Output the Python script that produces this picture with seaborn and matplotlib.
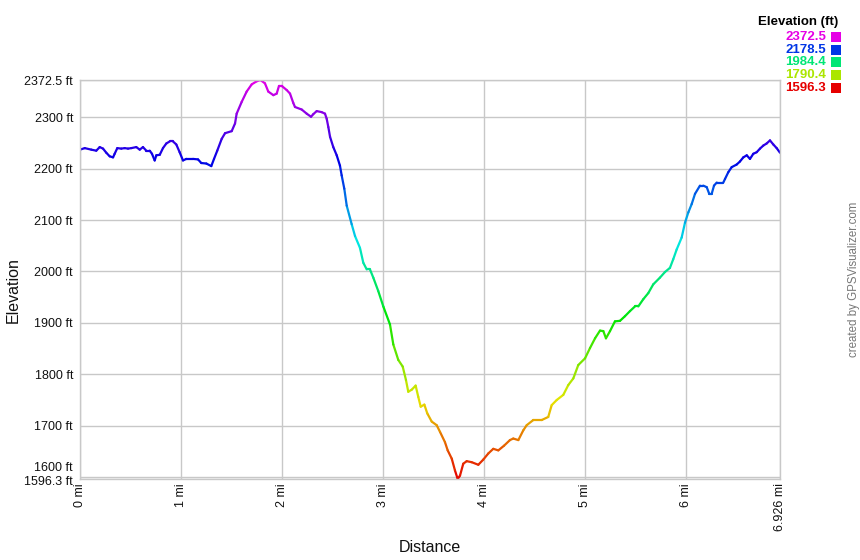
import numpy as np
import pandas as pd
import matplotlib
matplotlib.use("Agg")
import matplotlib.pyplot as plt
import seaborn as sns
from matplotlib.colors import ListedColormap, hsv_to_rgb
from matplotlib.patches import Rectangle
from matplotlib import transforms

# ---------------- data ----------------
distance_mi = [
    0.000, 0.047, 0.112, 0.161, 0.195, 0.228, 0.260, 0.294, 0.327, 0.343,
    0.369, 0.409, 0.442, 0.475, 0.508, 0.557, 0.591, 0.623, 0.656, 0.690,
    0.712, 0.739, 0.755, 0.789, 0.821, 0.854, 0.888, 0.920, 0.953, 0.986,
    1.019, 1.052, 1.118, 1.168, 1.200, 1.250, 1.299, 1.326, 1.358, 1.402,
    1.435, 1.501, 1.534, 1.550, 1.600, 1.649, 1.699, 1.748, 1.785, 1.830,
    1.863, 1.913, 1.946, 1.969, 1.996, 2.045, 2.078, 2.110, 2.127, 2.194,
    2.243, 2.286, 2.308, 2.342, 2.391, 2.424, 2.441, 2.457, 2.474, 2.506,
    2.540, 2.572, 2.589, 2.615, 2.639, 2.688, 2.721, 2.770, 2.803, 2.837,
    2.869, 2.902, 2.951, 3.001, 3.067, 3.100, 3.149, 3.193, 3.225, 3.248,
    3.282, 3.321, 3.347, 3.371, 3.407, 3.436, 3.480, 3.529, 3.562, 3.611,
    3.638, 3.678, 3.710, 3.737, 3.760, 3.792, 3.826, 3.875, 3.941, 3.990,
    4.040, 4.089, 4.139, 4.195, 4.254, 4.287, 4.337, 4.386, 4.420, 4.485,
    4.568, 4.633, 4.667, 4.717, 4.782, 4.831, 4.881, 4.930, 4.997, 5.046,
    5.096, 5.145, 5.178, 5.204, 5.244, 5.293, 5.343, 5.392, 5.442, 5.491,
    5.524, 5.573, 5.623, 5.672, 5.738, 5.788, 5.837, 5.870, 5.904, 5.953,
    5.986, 6.019, 6.052, 6.085, 6.134, 6.167, 6.201, 6.226, 6.250, 6.273,
    6.300, 6.365, 6.382, 6.414, 6.448, 6.497, 6.530, 6.563, 6.597, 6.629,
    6.662, 6.695, 6.728, 6.761, 6.794, 6.827, 6.860, 6.893, 6.926,
]
elevation_ft = [
    2237, 2240, 2237, 2235, 2242, 2239, 2231, 2224, 2222, 2229,
    2240, 2239, 2240, 2239, 2240, 2242, 2237, 2242, 2235, 2235,
    2229, 2216, 2226, 2227, 2240, 2249, 2253, 2253, 2247, 2232,
    2216, 2219, 2219, 2218, 2211, 2210, 2205, 2219, 2235, 2258,
    2269, 2273, 2288, 2307, 2330, 2350, 2364, 2370, 2372.5, 2366,
    2350, 2343, 2346, 2361, 2361, 2353, 2346, 2328, 2320, 2315,
    2307, 2301, 2306, 2312, 2310, 2307, 2297, 2281, 2262, 2242,
    2226, 2206, 2187, 2161, 2128, 2092, 2069, 2046, 2017, 2004,
    2004, 1988, 1962, 1932, 1897, 1858, 1828, 1815, 1789, 1766,
    1770, 1778, 1756, 1737, 1741, 1724, 1708, 1701, 1688, 1668,
    1652, 1636, 1613, 1596.3, 1603, 1626, 1631, 1629, 1624, 1634,
    1646, 1655, 1652, 1661, 1672, 1675, 1672, 1691, 1701, 1711,
    1711, 1717, 1740, 1750, 1760, 1779, 1792, 1818, 1831, 1851,
    1870, 1885, 1884, 1870, 1884, 1903, 1904, 1913, 1923, 1932,
    1932, 1946, 1958, 1975, 1988, 1999, 2007, 2024, 2043, 2066,
    2095, 2115, 2131, 2151, 2167, 2167, 2164, 2151, 2151, 2167,
    2173, 2173, 2180, 2193, 2203, 2208, 2214, 2222, 2226, 2219,
    2229, 2232, 2239, 2245, 2249, 2255, 2247, 2240, 2231,
]
y_ticks = [1596.3, 1600, 1700, 1800, 1900, 2000, 2100, 2200, 2300, 2372.5]
y_tick_labels = ["1596.3 ft", "1600 ft", "1700 ft", "1800 ft", "1900 ft",
                 "2000 ft", "2100 ft", "2200 ft", "2300 ft", "2372.5 ft"]
x_ticks = [0, 1, 2, 3, 4, 5, 6, 6.926]
x_tick_labels = ["0 mi", "1 mi", "2 mi", "3 mi", "4 mi", "5 mi", "6 mi", "6.926 mi"]
legend_values = [2372.5, 2178.5, 1984.4, 1790.4, 1596.3]
legend_labels = ["2372.5", "2178.5", "1984.4", "1790.4", "1596.3"]

# ---------------- style ----------------
sns.set_style("white")
plt.rcParams["font.family"] = ["Liberation Sans", "DejaVu Sans"]

ymin, ymax = 1596.3, 2372.5
W, H = 860, 560

hues = np.linspace(0.0, 300.0 / 360.0, 256)
cmap = ListedColormap(hsv_to_rgb(np.column_stack([hues, np.ones(256), np.full(256, 0.9)])))
norm = plt.Normalize(ymin, ymax)

# segments, each coloured by its mean elevation
rows = []
for i in range(len(distance_mi) - 1):
    c = (elevation_ft[i] + elevation_ft[i + 1]) / 2.0
    rows.append({"seg": i, "x": distance_mi[i], "y": elevation_ft[i], "c": c})
    rows.append({"seg": i, "x": distance_mi[i + 1], "y": elevation_ft[i + 1], "c": c})
df = pd.DataFrame(rows)

fig = plt.figure(figsize=(W / 100, H / 100), dpi=100)
ax = fig.add_axes([80 / W, (H - 479) / H, 700 / W, 399 / H])

sns.lineplot(data=df, x="x", y="y", hue="c", units="seg", estimator=None,
             palette=cmap, hue_norm=(ymin, ymax), legend=False,
             linewidth=1.6, sort=False, ax=ax)

ax.set_xlim(0, 6.926)
ax.set_ylim(ymin, ymax)
ax.set_axisbelow(True)
ax.grid(True, color="#c8c8c8", linewidth=1)
for s in ax.spines.values():
    s.set_color("#c8c8c8")
    s.set_linewidth(1)

ax.set_yticks(y_ticks)
ax.set_yticklabels(y_tick_labels, fontsize=9, color="#111111")
ax.set_xticks(x_ticks)
ax.set_xticklabels(x_tick_labels, fontsize=9, color="#111111", rotation=90)
ax.tick_params(axis="both", length=0)
ax.tick_params(axis="y", pad=5)
ax.tick_params(axis="x", pad=3)

# nudge the two crowded bottom labels apart (as the reference does)
ylbls = ax.get_yticklabels()
ylbls[1].set_transform(ylbls[1].get_transform()
                       + transforms.ScaledTranslation(0, 11 / 100, fig.dpi_scale_trans))
ylbls[0].set_transform(ylbls[0].get_transform()
                       + transforms.ScaledTranslation(0, -1 / 100, fig.dpi_scale_trans))

ax.set_xlabel("")
ax.set_ylabel("")
fig.text(13 / W, 1 - 290 / H, "Elevation", rotation=90, ha="center", va="center",
         fontsize=11.5, color="#111111")
fig.text(430 / W, 1 - 548 / H, "Distance", ha="center", va="center",
         fontsize=11.5, color="#111111")

# colour legend
fig.text(838 / W, 1 - 22 / H, "Elevation (ft)", ha="right", va="center",
         fontsize=9.5, fontweight="bold", color="#000000")
for k, (v, t) in enumerate(zip(legend_values, legend_labels)):
    yc = 37 + k * 12.7
    col = cmap(norm(v))
    fig.text(826 / W, 1 - yc / H, t, ha="right", va="center",
             fontsize=9.5, fontweight="bold", color=col)
    fig.add_artist(Rectangle((831 / W, 1 - (yc + 5) / H), 10 / W, 10 / H,
                             transform=fig.transFigure, facecolor=col,
                             edgecolor="none"))

fig.text(854 / W, 1 - 279 / H, "created by GPSVisualizer.com", rotation=90,
         ha="center", va="center", fontsize=8.3, color="#777777")

fig.savefig("out.png", dpi=100)
